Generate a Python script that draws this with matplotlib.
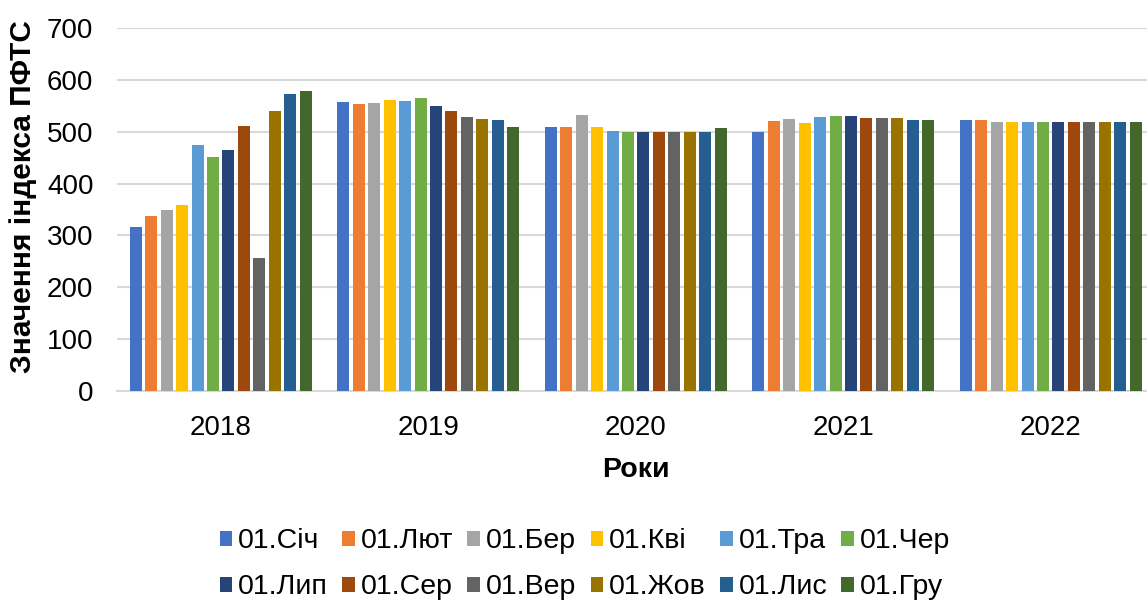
import numpy as np
import matplotlib.pyplot as plt

plt.rcParams['font.family'] = ['Liberation Sans', 'DejaVu Sans']

years = ['2018', '2019', '2020', '2021', '2022']
months = ['01.Січ', '01.Лют', '01.Бер', '01.Кві', '01.Тра', '01.Чер',
          '01.Лип', '01.Сер', '01.Вер', '01.Жов', '01.Лис', '01.Гру']

# index values per month, one list per year
v2018 = [316, 337, 350, 358, 475, 452, 464, 511, 257, 539, 572, 578]
v2019 = [557, 553, 556, 562, 560, 565, 550, 540, 528, 524, 522, 510]
v2020 = [510, 509, 533, 510, 501, 500, 499, 500, 500, 500, 500, 508]
v2021 = [500, 521, 524, 517, 528, 531, 530, 526, 527, 526, 522, 523]
v2022 = [523, 522, 519, 519, 519, 519, 519, 519, 519, 519, 519, 519]

colors = ['#4472C4', '#ED7D31', '#A5A5A5', '#FFC000', '#5B9BD5', '#70AD47',
          '#264478', '#9E480E', '#636363', '#997300', '#255E91', '#43682B']

data = np.array([v2018, v2019, v2020, v2021, v2022])

fig = plt.figure(figsize=(11.47, 6.01), dpi=100)
ax = fig.add_axes([117 / 1147, 1 - 391 / 601, 1037.5 / 1147, 363 / 601])

x = np.arange(len(years))
pitch = 0.0745
width = 0.058
bars = []
for i, m in enumerate(months):
    b = ax.bar(x + (i - 5.5) * pitch, data[:, i], width, color=colors[i], label=m, zorder=3)
    bars.append(b)

ax.set_xlim(-0.5, 4.5)
ax.set_ylim(0, 700)
ax.set_yticks(range(0, 701, 100))
ax.set_xticks(x)
ax.set_xticklabels(years)
ax.tick_params(axis='both', length=0, labelsize=20)
ax.tick_params(axis='x', pad=17)
ax.tick_params(axis='y', pad=17)
ax.yaxis.grid(True, color='#D9D9D9', linewidth=1.5, zorder=0)
for s in ['top', 'right', 'left']:
    ax.spines[s].set_visible(False)
ax.spines['bottom'].set_color('#D9D9D9')
ax.spines['bottom'].set_linewidth(1.5)

ax.set_xlabel('Роки', fontsize=20.5, fontweight='bold', labelpad=12)
fig.text(23 / 1147, 1 - 197 / 601, 'Значення індекса ПФТС', rotation=90,
         fontsize=21.5, fontweight='bold', ha='center', va='center')

# reorder so the legend fills row by row
order = [0, 6, 1, 7, 2, 8, 3, 9, 4, 10, 5, 11]
fig.legend([bars[k] for k in order], [months[k] for k in order],
           loc='center', bbox_to_anchor=(0.51, 0.061), ncol=6, frameon=False,
           fontsize=20.5, handlelength=0.45, handleheight=0.45, handletextpad=0.2,
           columnspacing=0.5, labelspacing=0.7, borderpad=0)

fig.savefig('out.png', dpi=100)
